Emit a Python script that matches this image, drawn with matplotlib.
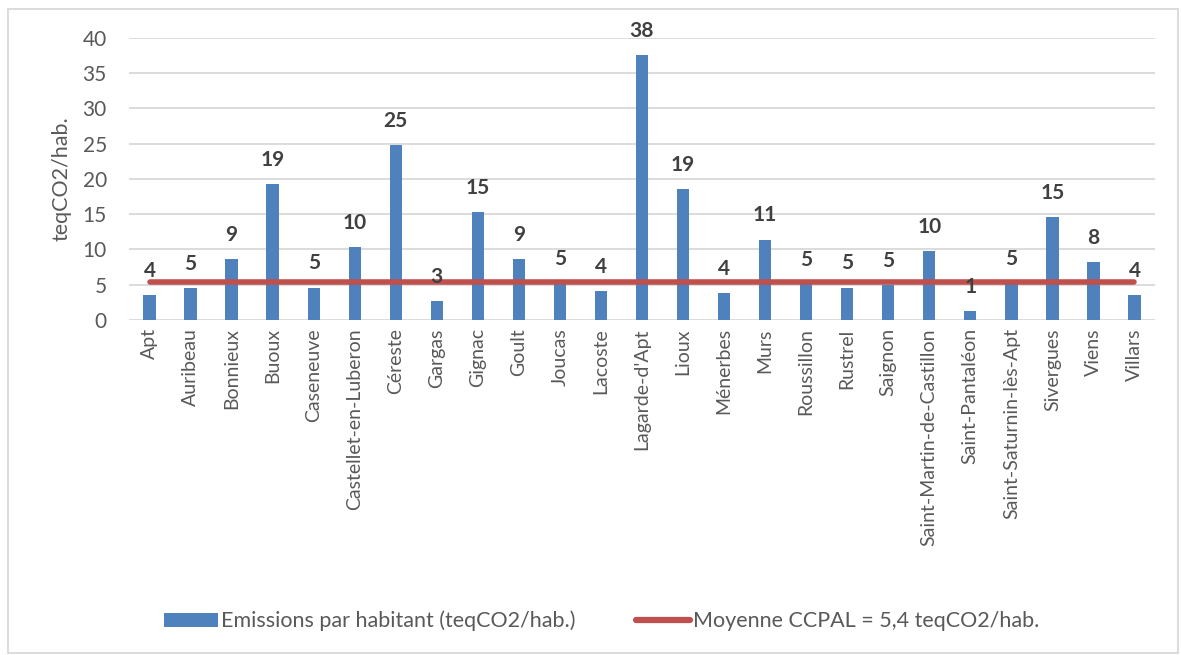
import matplotlib
matplotlib.use("Agg")
import matplotlib.pyplot as plt
from matplotlib.patches import Patch, Rectangle
from matplotlib.lines import Line2D

plt.rcParams['font.family'] = ['Lato', 'DejaVu Sans']

communes = ["Apt", "Auribeau", "Bonnieux", "Buoux", "Caseneuve", "Castellet-en-Luberon",
            "Céreste", "Gargas", "Gignac", "Goult", "Joucas", "Lacoste", "Lagarde-d'Apt",
            "Lioux", "Ménerbes", "Murs", "Roussillon", "Rustrel", "Saignon",
            "Saint-Martin-de-Castillon", "Saint-Pantaléon", "Saint-Saturnin-lès-Apt",
            "Sivergues", "Viens", "Villars"]
emissions = [3.6, 4.5, 8.7, 19.2, 4.6, 10.4, 24.8, 2.7, 15.3, 8.7, 5.2, 4.1, 37.5,
             18.6, 3.8, 11.4, 5.1, 4.6, 4.9, 9.8, 1.3, 5.3, 14.6, 8.2, 3.5]
moyenne = 5.4
yticks = [0, 5, 10, 15, 20, 25, 30, 35, 40]


def round_half_up(v):
    return int(v + 0.5)


W, H = 1181, 655
fig = plt.figure(figsize=(W / 100, H / 100), dpi=100)
ax = fig.add_axes([129 / W, 1 - 320 / H, (1155 - 129) / W, (320 - 37.7) / H])

x = list(range(len(communes)))
ax.bar(x, emissions, width=0.3, color="#4f81bd", zorder=3)
ax.plot(x, [moyenne] * len(x), color="#c0504d", lw=4, solid_capstyle="round", zorder=4)

for xi, v in zip(x, emissions):
    ax.annotate(f"{round_half_up(v)}", (xi, v), xytext=(0, 13), textcoords="offset points",
                ha="center", va="baseline", fontsize=15, fontweight="bold",
                color="#404040", zorder=5, annotation_clip=False)

ax.set_xlim(-0.5, len(communes) - 0.5)
ax.set_ylim(0, 40)
ax.set_yticks(yticks)
ax.set_xticks(x)
ax.set_xticklabels(communes, rotation=90, fontsize=14, color="#595959")
ax.tick_params(axis="y", labelsize=15, colors="#595959", length=0, pad=16)
ax.tick_params(axis="x", length=0, pad=6)
ax.grid(axis="y", color="#d9d9d9", lw=1.3, zorder=0)
for s in ax.spines.values():
    s.set_visible(False)
fig.text(62 / W, 1 - 179 / H, "teqCO2/hab.", rotation=90, ha="center", va="center",
         fontsize=15.5, color="#595959")

handles = [Patch(facecolor="#4f81bd", edgecolor="none"),
           Line2D([0], [0], color="#c0504d", lw=4.5, solid_capstyle="round")]
labels = ["Emissions par habitant (teqCO2/hab.)", "Moyenne CCPAL = 5,4 teqCO2/hab."]
leg = fig.legend(handles, labels, loc="center", bbox_to_anchor=(602 / W, 1 - 621 / H),
                 ncol=2, frameon=False, fontsize=15.5, handlelength=2.5,
                 handleheight=0.65, handletextpad=0.15, columnspacing=2.8)
for t in leg.get_texts():
    t.set_color("#595959")

fig.patches.append(Rectangle((8 / W, 1 - 653 / H), (1178 - 8) / W, (653 - 9) / H,
                             transform=fig.transFigure, fill=False,
                             edgecolor="#d9d9d9", lw=1.3))

fig.savefig("out.png", dpi=100, facecolor="white")
